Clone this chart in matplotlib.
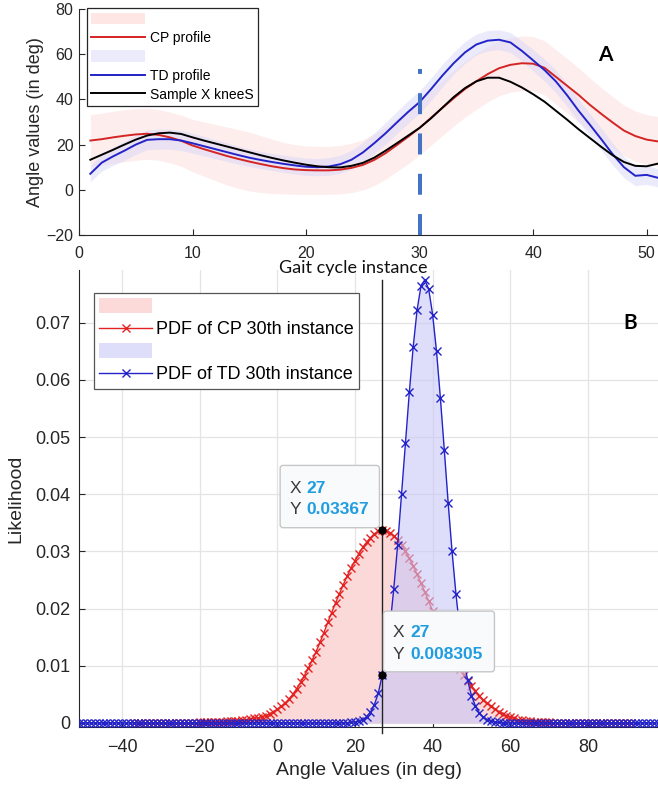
import numpy as np
import matplotlib
matplotlib.use("Agg")
import matplotlib.pyplot as plt
import matplotlib.transforms as mtransforms
from matplotlib.patches import Patch, Rectangle, FancyBboxPatch
from matplotlib.lines import Line2D

plt.rcParams['font.family'] = ['Liberation Sans', 'DejaVu Sans']

# panel A: knee angle over the gait cycle
gait_x = np.arange(1, 52)
cp_mean = [21.8, 22.4, 23.2, 23.9, 24.5, 24.8, 24.3, 23.2, 21.7, 19.6,
           18.0, 16.5, 15.0, 13.7, 12.5, 11.4, 10.4, 9.6, 9.0, 8.7,
           8.6, 8.6, 8.9, 9.7, 11.0, 13.2, 16.2, 19.8, 23.5, 27.4,
           31.8, 36.2, 40.5, 44.6, 48.0, 51.2, 53.8, 55.3, 56.0, 55.8,
           54.0, 50.0, 46.0, 42.0, 37.6, 33.6, 29.8, 26.2, 23.8, 22.2, 21.4]
cp_std = [11.5, 11.5, 11.5, 11.5, 11.4, 11.3, 11.2, 11.2, 11.3, 11.6,
          12.0, 12.4, 12.8, 13.0, 13.0, 12.6, 12.0, 11.4, 11.0, 10.7,
          10.6, 10.6, 10.7, 10.9, 11.1, 11.3, 11.5, 11.7, 11.9, 12.0,
          12.1, 12.2, 12.3, 12.4, 12.4, 12.3, 12.2, 12.1, 12.0, 12.0,
          12.0, 12.0, 12.0, 11.9, 11.8, 11.6, 11.4, 11.2, 11.1, 11.0, 11.0]
td_mean = [7.1, 12.0, 14.8, 17.3, 20.0, 22.1, 22.4, 22.4, 21.8, 20.6,
           19.3, 18.0, 16.7, 15.4, 14.2, 13.2, 12.3, 11.5, 10.8, 10.2,
           10.0, 10.3, 11.3, 13.3, 16.5, 20.6, 25.0, 29.8, 34.5, 38.8,
           44.5, 50.5, 56.0, 60.8, 64.3, 66.0, 66.4, 65.2, 61.5, 57.3,
           53.0, 48.0, 41.8, 35.0, 28.8, 22.4, 15.8, 10.0, 6.2, 6.6, 5.3]
td_std = [3.5, 3.8, 4.0, 4.2, 4.3, 4.4, 4.4, 4.4, 4.4, 4.4,
          4.3, 4.2, 4.1, 4.0, 3.9, 3.8, 3.8, 3.8, 3.8, 3.8,
          3.8, 3.9, 4.0, 4.2, 4.4, 4.6, 4.8, 4.9, 5.0, 5.0,
          5.0, 5.0, 4.9, 4.8, 4.6, 4.5, 4.4, 4.4, 4.5, 4.7,
          4.9, 5.0, 5.0, 5.0, 5.0, 4.9, 4.8, 4.6, 4.4, 4.2, 4.0]
sample_knee = [13.3, 15.5, 17.7, 20.0, 22.2, 24.0, 25.0, 25.3, 24.7, 23.2,
               21.8, 20.5, 19.2, 17.9, 16.6, 15.3, 14.1, 13.0, 12.0, 11.1,
               10.4, 10.0, 9.9, 10.6, 11.9, 14.2, 17.3, 20.6, 24.0, 27.4,
               31.6, 36.3, 41.0, 45.0, 48.0, 49.6, 49.6, 47.8, 45.3, 42.3,
               39.0, 35.0, 31.0, 26.8, 22.9, 19.0, 15.3, 12.3, 10.6, 10.4, 11.6]
instance = 30
instance_top = 53.5

# panel B: PDFs at the 30th instance
cp_pdf_x = np.arange(-37, 92)
cp_pdf = ([0.0] * 17 +
          [0.0001, 0.0001, 0.0001, 0.0001, 0.0002, 0.0002, 0.0002, 0.0003, 0.0003, 0.0004,
           0.0004, 0.0005, 0.0006, 0.0007, 0.0008, 0.0009, 0.0011, 0.0013, 0.0016, 0.0019] +
          [0.0024, 0.0029, 0.0035, 0.0042, 0.0050, 0.0060, 0.0071, 0.0083, 0.0096, 0.0110,
           0.0125, 0.0141, 0.0158, 0.0176, 0.0193, 0.0210, 0.0226, 0.0242, 0.0257, 0.0271,
           0.0284, 0.0296, 0.0307, 0.0316, 0.0324, 0.0331, 0.0335, 0.03367, 0.0336, 0.0333,
           0.0327, 0.0320, 0.0311, 0.0300, 0.0288, 0.0275, 0.0260, 0.0245, 0.0229, 0.0213,
           0.0196, 0.0180, 0.0164, 0.0149, 0.0134, 0.0120, 0.0107, 0.0095, 0.0084, 0.0074,
           0.0065, 0.0056, 0.0048, 0.0041, 0.0035, 0.0029, 0.0024, 0.0020, 0.0016, 0.0013,
           0.0010, 0.0008, 0.0006, 0.0005, 0.0004, 0.0003, 0.0002, 0.0002, 0.0001, 0.0001,
           0.0001] +
          [0.0] * 21)
td_pdf_x = np.arange(-52, 100)
td_pdf = ([0.0] * 71 +
          [0.0001, 0.0002, 0.0003, 0.0006, 0.0011, 0.0019, 0.0032, 0.0052, 0.008305, 0.0117,
           0.0168, 0.0235, 0.0312, 0.0400, 0.0490, 0.0578, 0.0658, 0.0722, 0.0764, 0.0775,
           0.0758, 0.0714, 0.0650, 0.0568, 0.0478, 0.0385, 0.0300, 0.0226, 0.0163, 0.0113,
           0.0075, 0.0048, 0.0030, 0.0018, 0.0010, 0.0006, 0.0003, 0.0002, 0.0001] +
          [0.0] * 42)
tip_x = 27
tip_cp = 0.03367
tip_td = 0.008305
pdf_yticks = [0, 0.01, 0.02, 0.03, 0.04, 0.05, 0.06, 0.07]
pdf_ylabels = ['0', '0.01', '0.02', '0.03', '0.04', '0.05', '0.06', '0.07']

W, H = 658, 789
def fig_box(left, top, right, bottom):
    return [left / W, 1 - bottom / H, (right - left) / W, (bottom - top) / H]

fig = plt.figure(figsize=(W / 100, H / 100), dpi=100)
axc = '#262626'

# ---- panel A
ax1 = fig.add_axes(fig_box(79, 9, 658, 235))
ax1.set_zorder(0)
cp_lo = np.array(cp_mean) - np.array(cp_std)
cp_hi = np.array(cp_mean) + np.array(cp_std)
td_lo = np.array(td_mean) - np.array(td_std)
td_hi = np.array(td_mean) + np.array(td_std)
ax1.fill_between(gait_x, cp_lo, cp_hi, color='#fdedec', lw=0, zorder=1)
ax1.fill_between(gait_x, td_lo, td_hi, color='#d8d8f8', alpha=0.5, lw=0, zorder=1.5)
ax1.plot(gait_x, cp_mean, color='#d42424', lw=1.4, zorder=3)
ax1.plot(gait_x, td_mean, color='#2323c8', lw=1.4, zorder=3)
ax1.plot(gait_x, sample_knee, color='black', lw=1.4, zorder=3.5)
ax1.plot([instance, instance], [-20, instance_top], color='#4472c4', lw=2.9,
         ls=(0, (5.2, 4.8)), zorder=4)
ax1.set_xlim(0, 51)
ax1.set_ylim(-20, 80)
ax1.set_xticks([0, 10, 20, 30, 40, 50])
ax1.set_yticks([-20, 0, 20, 40, 60, 80])
for s in ['top', 'right']:
    ax1.spines[s].set_visible(False)
for s in ['left', 'bottom']:
    ax1.spines[s].set_color(axc)
ax1.tick_params(direction='in', length=4, width=0.8, colors=axc, labelsize=11.5)
ax1.tick_params(axis='x', pad=8)
ax1.tick_params(axis='y', pad=4)
ax1.set_ylabel('Angle values (in deg)', fontsize=13, color=axc, labelpad=2)

h1 = [Patch(facecolor='#fde6e3', edgecolor='none'),
      Line2D([], [], color='#d42424', lw=1.4),
      Patch(facecolor='#ebebfb', edgecolor='none'),
      Line2D([], [], color='#2323c8', lw=1.4),
      Line2D([], [], color='black', lw=1.4)]
leg1 = ax1.legend(h1, ['', 'CP profile', '', 'TD profile', 'Sample X kneeS'],
                  loc='upper left', bbox_to_anchor=(0.0138, 1.004), borderaxespad=0,
                  fontsize=10, handlelength=3.9, handleheight=0.9, handletextpad=0.35,
                  labelspacing=0.35, borderpad=0.3, fancybox=False, framealpha=1)
leg1.get_frame().set_edgecolor(axc)
leg1.get_frame().set_linewidth(0.9)

# white sheet of the second figure covering the lower part
fig.add_artist(Rectangle((0, 0), 1, 1 - 258 / H, transform=fig.transFigure,
                         facecolor='white', edgecolor='none', zorder=1))

# ---- panel B
ax2 = fig.add_axes(fig_box(79, 270, 658, 727))
ax2.set_zorder(2)
ax2.fill_between(cp_pdf_x, 0, cp_pdf, color='#fcd9d9', lw=0, zorder=1)
ax2.plot(cp_pdf_x, cp_pdf, color='#e32222', lw=1.0, marker='x', ms=5.5, mew=1.0, zorder=2)
ax2.fill_between(td_pdf_x, 0, td_pdf, color='#c8c8f8', alpha=0.6, lw=0, zorder=3)
ax2.plot(td_pdf_x, td_pdf, color='#2323c8', lw=1.0, marker='x', ms=5.5, mew=1.0, zorder=4)
ax2.plot([tip_x, tip_x], [-0.0018, 0.0775], color='#222222', lw=1.0, zorder=5, clip_on=False)
ax2.plot([tip_x, tip_x], [tip_cp, tip_td], ls='none', marker='o', ms=5,
         color='black', zorder=6)
ax2.set_xlim(-51.07, 98.04)
ax2.set_ylim(-0.0007, 0.0792)
ax2.set_xticks([-40, -20, 0, 20, 40, 60, 80])
ax2.set_yticks(pdf_yticks, labels=pdf_ylabels)
ax2.grid(True, color='#e4e4e4', lw=0.9)
ax2.set_axisbelow(True)
for s in ['top', 'right']:
    ax2.spines[s].set_visible(False)
for s in ['left', 'bottom']:
    ax2.spines[s].set_color(axc)
ax2.tick_params(direction='in', length=4, width=0.8, colors=axc, labelsize=13)
ax2.tick_params(axis='x', pad=9)
ax2.tick_params(axis='y', pad=6)
ax2.set_xlabel('Angle Values (in deg)', fontsize=14, color=axc, labelpad=4)
ax2.set_ylabel('Likelihood', fontsize=14, color=axc, labelpad=8)

h2 = [Patch(facecolor='#fcdada', edgecolor='none'),
      Line2D([], [], color='#e32222', lw=1.0, marker='x', ms=5.5, mew=1.0),
      Patch(facecolor='#dedefb', edgecolor='none'),
      Line2D([], [], color='#2323c8', lw=1.0, marker='x', ms=5.5, mew=1.0)]
leg2 = ax2.legend(h2, ['', 'PDF of CP 30th instance', '', 'PDF of TD 30th instance'],
                  loc='upper left', bbox_to_anchor=(0.0259, 0.9497), borderaxespad=0,
                  fontsize=13, handlelength=2.9, handleheight=0.85, handletextpad=0.25,
                  labelspacing=0.28, borderpad=0.3, fancybox=False, framealpha=1)
leg2.get_frame().set_edgecolor('#555555')
leg2.get_frame().set_linewidth(0.9)

# data tips
ident = mtransforms.IdentityTransform()
tip_blue = '#1f9de0'
def data_tip(y, box, xs, base, y_text):
    px, py = ax2.transData.transform((tip_x, y))
    fig.add_artist(FancyBboxPatch((px + box[0], py + box[1]), box[2], box[3],
                                  boxstyle='round,pad=0,rounding_size=3',
                                  transform=ident, facecolor='#f9fafc',
                                  edgecolor='#c6c6c6', lw=1.0, zorder=6))
    for lab, val, b in [('X', str(tip_x), base[0]), ('Y', y_text, base[1])]:
        fig.text(px + xs[0], py + b, lab, transform=ident, fontsize=12.5,
                 color='#3a3a3a', va='baseline', zorder=7)
        fig.text(px + xs[1], py + b, val, transform=ident, fontsize=12.5,
                 color=tip_blue, fontweight='bold', va='baseline', zorder=7)

data_tip(tip_cp, (-102, 2.7, 99.3, 62.3), (-92.7, -76), (37.7, 16), '0.03367')
data_tip(tip_td, (1.3, 3.7, 111, 60.7), (10.6, 28.5), (38.4, 16.7), '0.008305')

fig.text(353 / W, 1 - 268 / H, 'Gait cycle instance', family=['Lato', 'DejaVu Sans'],
         fontsize=13, ha='center', va='center', color='#111111', zorder=8)
fig.text(605 / W, 1 - 55 / H, 'A', family=['Lato', 'DejaVu Sans'], fontsize=15,
         fontweight='bold', ha='center', va='center', zorder=8)
fig.text(630 / W, 1 - 323 / H, 'B', family=['Lato', 'DejaVu Sans'], fontsize=15,
         fontweight='bold', ha='center', va='center', zorder=8)

fig.savefig('out.png', dpi=100)
